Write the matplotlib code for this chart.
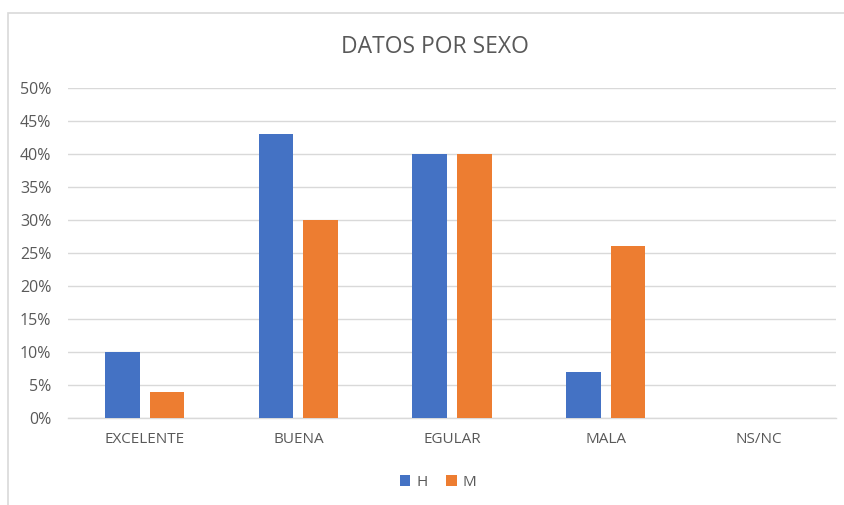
import numpy as np
import matplotlib.pyplot as plt
from matplotlib.patches import Rectangle
from matplotlib.ticker import PercentFormatter

categorias = ['EXCELENTE', 'BUENA', 'EGULAR', 'MALA', 'NS/NC']
valores_h = [10, 43, 40, 7, 0]
valores_m = [4, 30, 40, 26, 0]
series = ['H', 'M']

azul = '#4472C4'
naranja = '#ED7D31'
gris_txt = '#595959'

plt.rcParams['font.family'] = ['Open Sans', 'DejaVu Sans']

fig = plt.figure(figsize=(8.45, 5.05), dpi=100)
# marco del grafico
fig.patches.append(Rectangle((8 / 845, -0.05), 1.0, (505 - 13) / 505 + 0.05,
                             transform=fig.transFigure, fill=False,
                             edgecolor='#d9d9d9', linewidth=1.2))

ax = fig.add_axes([68 / 845, 1 - 418 / 505, (836 - 68) / 845, (418 - 88) / 505])

x = np.arange(len(categorias))
ancho = 0.225
sep = 0.145
ax.bar(x - sep, valores_h, ancho, color=azul, label=series[0], zorder=3)
ax.bar(x + sep, valores_m, ancho, color=naranja, label=series[1], zorder=3)

ax.set_xlim(-0.5, len(categorias) - 0.5)
ax.set_ylim(0, 50)
ax.set_yticks(np.arange(0, 51, 5))
ax.yaxis.set_major_formatter(PercentFormatter(decimals=0))
ax.set_xticks(x)
ax.set_xticklabels(categorias)

ax.grid(axis='y', color='#d9d9d9', linewidth=1, zorder=0)
for s in ['top', 'right', 'left']:
    ax.spines[s].set_visible(False)
ax.spines['bottom'].set_color('#d9d9d9')
ax.spines['bottom'].set_linewidth(1)
ax.tick_params(axis='y', length=0, colors=gris_txt, labelsize=11.5, pad=12)
ax.tick_params(axis='x', length=0, colors=gris_txt, labelsize=11, pad=10)

fig.text(435 / 845, 1 - 47 / 505, 'DATOS POR SEXO', ha='center', va='center',
         fontsize=16.5, color=gris_txt)

fig.legend(loc='center', bbox_to_anchor=(438 / 845, 1 - 482 / 505), ncol=2,
           frameon=False, fontsize=11, labelcolor=gris_txt,
           handlelength=0.7, handleheight=0.7, handletextpad=0.4,
           columnspacing=1.2)

fig.savefig('out.png', dpi=100)
